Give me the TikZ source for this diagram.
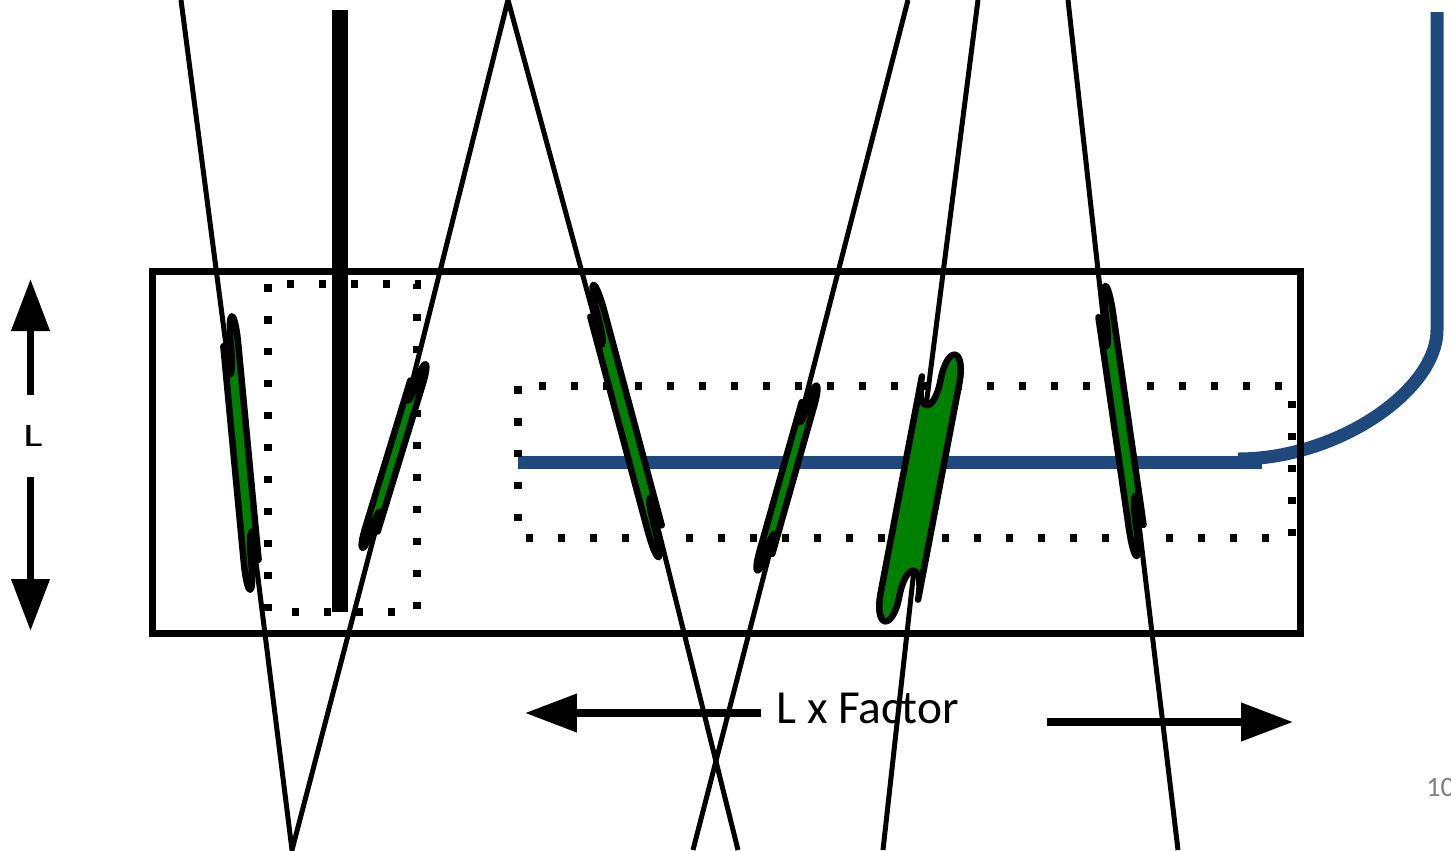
\documentclass[tikz,border=0pt]{standalone}
\usepackage{fontspec}
\setmainfont{Carlito}
\usetikzlibrary{arrows.meta, backgrounds}
\definecolor{feedblue}{HTML}{1F497D}
\definecolor{rodgreen}{HTML}{008000}
\tikzset{
  >={Triangle[length=1.04cm, width=0.74cm]},
  lx ray/.style={draw=black, line width=0.1cm},
  lx frame/.style={draw=black, line width=0.14cm},
  lx dots/.style={draw=black, line width=0.15cm, dash pattern=on 0.15cm off 0.49cm},
  lx feed/.style={draw=feedblue, line width=0.26cm},
  lx post/.style={draw=black, line width=0.33cm},
  lx rod/.style={draw=black, fill=rodgreen, line width=0.13cm, line join=round},
  lx dim/.style={draw=black, ->, line width=0.15cm},
}
% rod with wavy ends: name, centre, rotation, width, half length, wave depth
\newcommand{\lxrod}[6]{%
  \begin{scope}[shift={(#2)}, rotate=#3]
    \draw[lx rod] (-#4/2,#5) -- (-#4/2,-#5)
      .. controls (-#4/2,-#5+4*#6/3) and (0,-#5+4*#6/3) .. (0,-#5)
      .. controls (0,-#5-4*#6/3) and (#4/2,-#5-4*#6/3) .. (#4/2,-#5)
      -- (#4/2,#5)
      .. controls (#4/2,#5-4*#6/3) and (0,#5-4*#6/3) .. (0,#5)
      .. controls (0,#5+4*#6/3) and (-#4/2,#5+4*#6/3) .. (-#4/2,#5) -- cycle;
    \coordinate (#1-t) at (-#4/4,-#5+#6);
    \coordinate (#1-b) at (#4/4,#5-#6);
  \end{scope}}

\begin{document}
\begin{tikzpicture}[x=0.02cm, y=-0.02cm]
 \path[use as bounding box, clip] (0,0) rectangle (1451,850);
 % blue feed
 \draw[lx feed] (518,462) -- (1262,462);
 \draw[lx feed] (1238,459) .. controls (1338,459) and (1437,390) .. (1437,330) -- (1437,12);
 % boxes
 \draw[lx frame] (152.5,271) rectangle (1300,633);
 \draw[lx dots] (268,284) rectangle (417,612);
 \draw[lx dots] (518,386) rectangle (1292,538);
 \draw[lx post] (340,10) -- (340,612);
 % rods
 \lxrod{ra}{241,453}{5.4}{15}{108}{29}
 \lxrod{rb}{394,456}{-17}{13}{77}{20}
 \lxrod{rc}{626,421}{15}{15}{110}{30}
 \lxrod{rd}{787,478}{-15.8}{13}{77}{20}
 \lxrod{re}{920,488}{-10.8}{38}{110}{27.5}
 \lxrod{rf}{1121,421}{8.2}{15}{106}{30}
 % ray ends
 \coordinate (top1) at (181,0);
 \coordinate (apexB) at (292,850);
 \coordinate (apexT) at (508,0);
 \coordinate (bot2) at (738,850);
 \coordinate (top3) at (908,0);
 \coordinate (bot3) at (693,850);
 \coordinate (top4) at (978,0);
 \coordinate (bot4) at (883,850);
 \coordinate (top5) at (1068,0);
 \coordinate (bot5) at (1178,850);
 \begin{scope}[on background layer]
   \fill[white] (0,0) rectangle (1451,850);
   \draw[lx ray] (top1) -- (ra-t);
   \draw[lx ray] (ra-b) -- (apexB) -- (rb-b);
   \draw[lx ray] (rb-t) -- (apexT) -- (rc-t);
   \draw[lx ray] (rc-b) -- (bot2);
   \draw[lx ray] (top3) -- (rd-t);
   \draw[lx ray] (rd-b) -- (bot3);
   \draw[lx ray] (top4) -- (re-t);
   \draw[lx ray] (re-b) -- (bot4);
   \draw[lx ray] (top5) -- (rf-t);
   \draw[lx ray] (rf-b) -- (bot5);
 \end{scope}
 % dimensions
 \node[font=\fontsize{26}{30}\selectfont, minimum height=1.64cm, inner sep=0pt] (lenL) at (33,436) {\scalebox{1}[0.72]{L}};
 \coordinate (lenTop) at (30.5,279);
 \coordinate (lenBot) at (30.5,631);
 \draw[lx dim] (lenL.north -| lenTop) -- (lenTop);
 \draw[lx dim] (lenL.south -| lenBot) -- (lenBot);
 \node[anchor=base west, inner sep=0pt, font=\fontsize{27}{31}\selectfont] (factor) at (776,723) {L x Factor};
 \coordinate (facLs) at (761,713);
 \coordinate (facLt) at (525,713);
 \coordinate (facRs) at (1047,722);
 \coordinate (facRt) at (1293,722);
 \draw[lx dim] (facLs) -- (facLt);
 \draw[lx dim] (facRs) -- (facRt);
 \node[anchor=base west, inner sep=0pt, text=black!50, font=\fontsize{16}{18}\selectfont] (pgno) at (1426,796) {10};
\end{tikzpicture}
\end{document}
